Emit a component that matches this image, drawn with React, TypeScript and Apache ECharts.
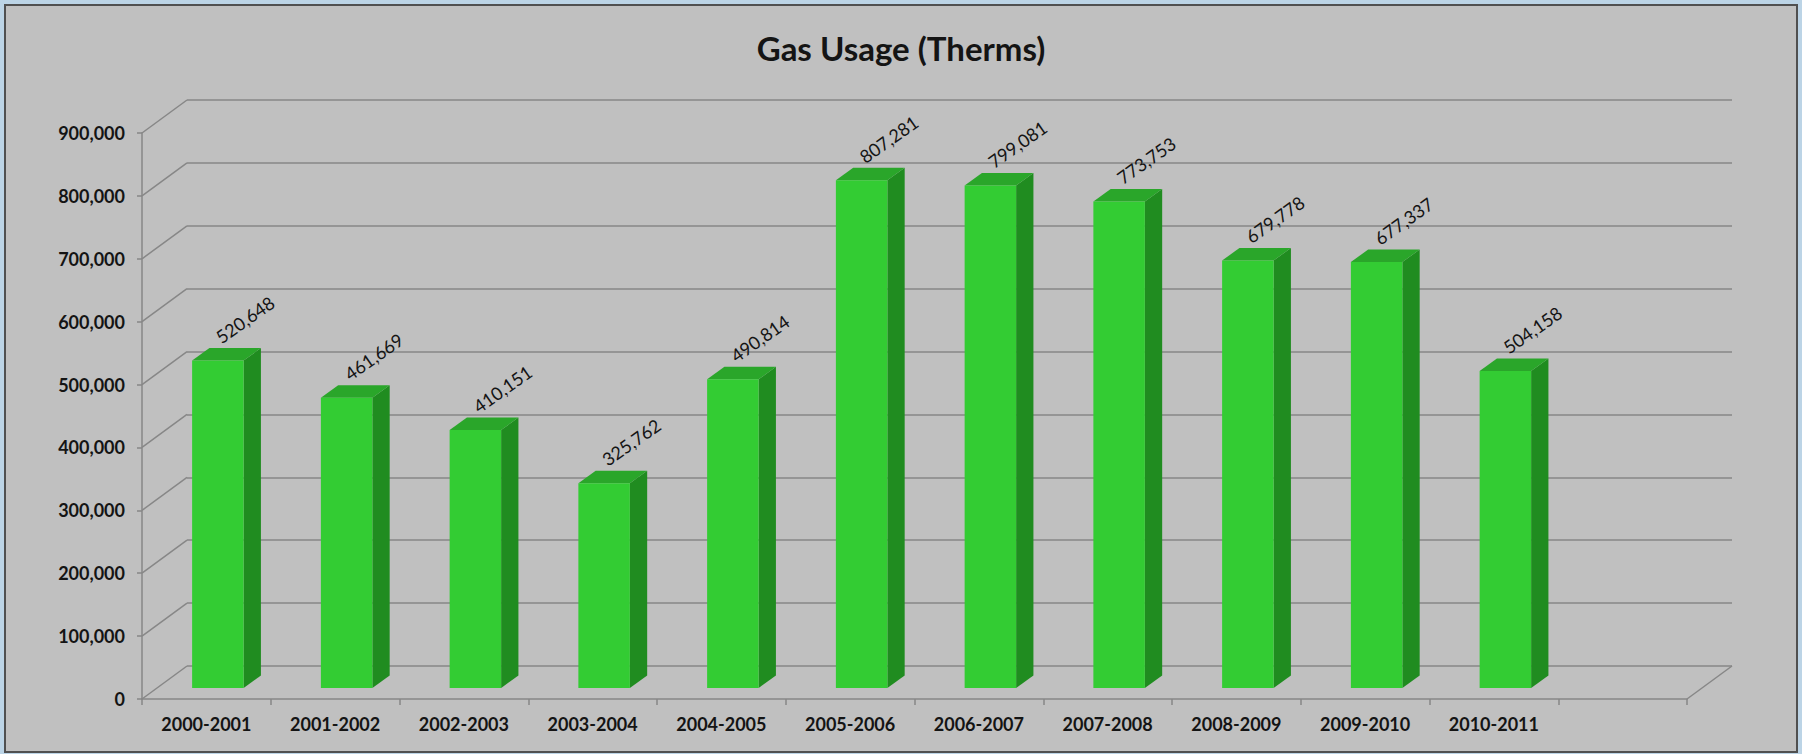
import React, { useEffect, useRef } from 'react';
import * as echarts from 'echarts';

// ---- data ----
const TITLE = 'Gas Usage (Therms)';
const CATEGORIES = [
  '2000-2001', '2001-2002', '2002-2003', '2003-2004', '2004-2005', '2005-2006',
  '2006-2007', '2007-2008', '2008-2009', '2009-2010', '2010-2011', '',
];
const USAGE = [520648, 461669, 410151, 325762, 490814, 807281, 799081, 773753, 679778, 677337, 504158];
const Y_TICKS = [0, 100000, 200000, 300000, 400000, 500000, 600000, 700000, 800000, 900000];
const Y_MIN = 0;
const Y_MAX = 900000;
const Y_INTERVAL = 100000;

// ---- layout / style ----
const W = 1802;
const H = 754;
const FRONT = { left: 142, right: 115, top: 133, bottom: 55 };
const DEPTH_X = 45;
const DEPTH_Y = 33;
const BAR = { widthRatio: 0.4, shiftX: 11.5, shiftY: 11, depthX: 17.3, depthY: 12.5 };
const LABEL_ROT = 35;
const LABEL_DX = 5;
const LABEL_DY = -2;
const FONT = 'Lato';
const LINE = '#878787';
const FACE = '#33CC33';
const SIDE = '#208C20';
const TOPC = '#2AA62A';
const TEXT = '#141414';

const fmt = (v: number) => v.toLocaleString('en-US');

export default function App() {
  const ref = useRef<HTMLDivElement>(null);
  useEffect(() => {
    if (!ref.current) return;
    const chart = echarts.init(ref.current, null, { renderer: 'svg' });
    const option: any = {
      animation: false,
      backgroundColor: '#BCD4E6',
      title: {
        text: TITLE,
        left: 'center',
        top: 26,
        textStyle: { fontSize: 33, fontWeight: 'bold', fontFamily: FONT, color: TEXT },
      },
      graphic: [
        {
          type: 'rect',
          z: -100,
          silent: true,
          shape: { x: 5, y: 5, width: W - 10, height: H - 7 },
          style: { fill: '#C0C0C0', stroke: '#505050', lineWidth: 2 },
        },
      ],
      grid: [
        { left: FRONT.left, right: FRONT.right, top: FRONT.top, bottom: FRONT.bottom },
        {
          left: FRONT.left + DEPTH_X,
          right: FRONT.right - DEPTH_X,
          top: FRONT.top - DEPTH_Y,
          bottom: FRONT.bottom + DEPTH_Y,
        },
      ],
      xAxis: [
        {
          type: 'category',
          gridIndex: 0,
          data: CATEGORIES,
          boundaryGap: true,
          axisLine: { show: true, lineStyle: { color: LINE, width: 1.5 } },
          axisTick: { show: true, interval: 0, length: 6, alignWithLabel: false, lineStyle: { color: LINE, width: 1.5 } },
          axisLabel: {
            interval: 0,
            margin: 16,
            fontSize: 18,
            fontWeight: 'bold',
            fontFamily: FONT,
            color: TEXT,
          },
          splitLine: { show: false },
        },
        {
          type: 'category',
          gridIndex: 1,
          data: CATEGORIES,
          show: false,
        },
      ],
      yAxis: [
        {
          type: 'value',
          gridIndex: 0,
          min: Y_MIN,
          max: Y_MAX,
          interval: Y_INTERVAL,
          axisLine: { show: true, lineStyle: { color: LINE, width: 1.5 } },
          axisTick: { show: true, length: 5, lineStyle: { color: LINE, width: 1.5 } },
          axisLabel: {
            margin: 17,
            fontSize: 18,
            fontWeight: 'bold',
            fontFamily: FONT,
            color: TEXT,
            formatter: (v: number) => fmt(v),
          },
          splitLine: { show: false },
        },
        {
          type: 'value',
          gridIndex: 1,
          min: Y_MIN,
          max: Y_MAX,
          interval: Y_INTERVAL,
          axisLine: { show: false },
          axisTick: { show: false },
          axisLabel: { show: false },
          splitLine: { show: true, lineStyle: { color: LINE, width: 1.5 } },
        },
      ],
      series: [
        {
          name: 'wall',
          type: 'custom',
          xAxisIndex: 0,
          yAxisIndex: 0,
          silent: true,
          clip: false,
          z: 1,
          data: Y_TICKS.map((v) => [0, v]),
          renderItem: (_p: any, api: any) => {
            const c = api.coord([0, api.value(1)]);
            const x = c[0] - api.size([1, 0])[0] / 2;
            return {
              type: 'line',
              shape: { x1: x, y1: c[1], x2: x + DEPTH_X, y2: c[1] - DEPTH_Y },
              style: { stroke: LINE, lineWidth: 1.5 },
            };
          },
        },
        {
          name: 'floor',
          type: 'custom',
          xAxisIndex: 0,
          yAxisIndex: 0,
          silent: true,
          clip: false,
          z: 1,
          data: [[CATEGORIES.length - 1, Y_MIN]],
          renderItem: (_p: any, api: any) => {
            const c = api.coord([api.value(0), api.value(1)]);
            const x = c[0] + api.size([1, 0])[0] / 2;
            return {
              type: 'line',
              shape: { x1: x, y1: c[1], x2: x + DEPTH_X, y2: c[1] - DEPTH_Y },
              style: { stroke: LINE, lineWidth: 1.5 },
            };
          },
        },
        {
          name: 'Gas Usage',
          type: 'custom',
          xAxisIndex: 0,
          yAxisIndex: 0,
          clip: false,
          z: 3,
          data: USAGE.map((v, i) => [i, v]),
          renderItem: (_p: any, api: any) => {
            const i = api.value(0);
            const v = api.value(1);
            const base = api.coord([i, 0]);
            const top = api.coord([i, v]);
            const w = api.size([1, 0])[0] * BAR.widthRatio;
            const x0 = base[0] + BAR.shiftX - w / 2;
            const yb = base[1] - BAR.shiftY;
            const yt = top[1] - BAR.shiftY;
            const dx = BAR.depthX;
            const dy = BAR.depthY;
            return {
              type: 'group',
              children: [
                {
                  type: 'polygon',
                  shape: { points: [[x0 + w, yt], [x0 + w + dx, yt - dy], [x0 + w + dx, yb - dy], [x0 + w, yb]] },
                  style: { fill: SIDE },
                },
                {
                  type: 'polygon',
                  shape: { points: [[x0, yt], [x0 + dx, yt - dy], [x0 + w + dx, yt - dy], [x0 + w, yt]] },
                  style: { fill: TOPC },
                },
                {
                  type: 'rect',
                  shape: { x: x0, y: yt, width: w, height: yb - yt },
                  style: { fill: FACE },
                },
                {
                  type: 'text',
                  x: x0 + w / 2 + LABEL_DX,
                  y: yt - dy + LABEL_DY,
                  rotation: (LABEL_ROT * Math.PI) / 180,
                  style: {
                    text: fmt(v),
                    fill: TEXT,
                    fontSize: 18,
                    fontFamily: FONT,
                    align: 'left',
                    verticalAlign: 'bottom',
                  },
                },
              ],
            };
          },
        },
      ],
    };
    chart.setOption(option);
    return () => chart.dispose();
  }, []);
  return <div ref={ref} style={{ position: 'fixed', left: 0, top: 0, width: W, height: H }} />;
}
